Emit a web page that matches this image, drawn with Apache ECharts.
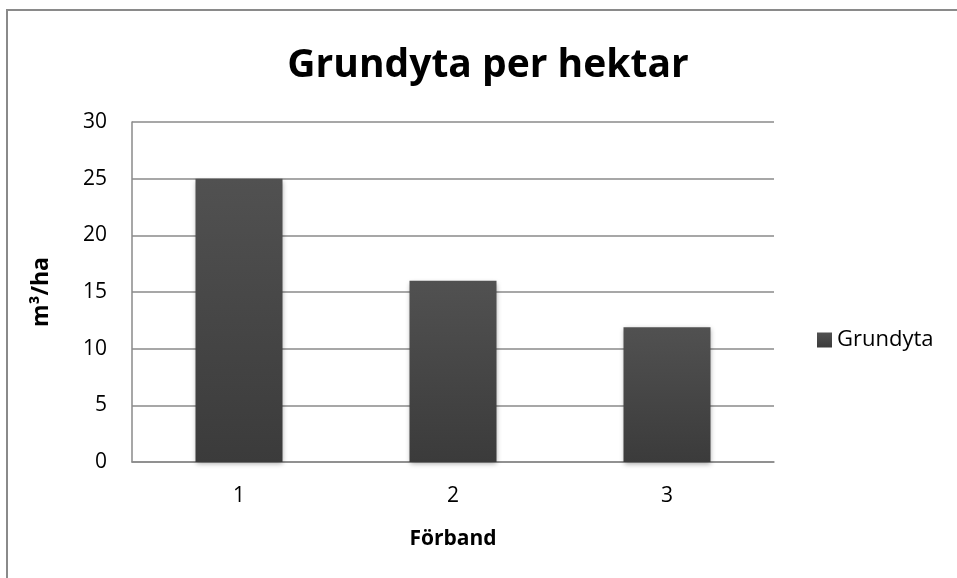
<!DOCTYPE html>
<html>
<head>
<meta charset="utf-8">
<script src="https://cdn.jsdelivr.net/npm/echarts@6/dist/echarts.min.js"></script>
<style>
  html, body { margin: 0; padding: 0; background: #fff; }
  #chart { width: 957px; height: 578px; }
</style>
</head>
<body>
<div id="chart"></div>
<script>
// data
const categories = ['1', '2', '3']
const grundyta = [25, 16, 11.9]
const yTicks = { min: 0, max: 30, interval: 5 }

const font = '"Open Sans", "Noto Sans", sans-serif'

const chart = echarts.init(document.getElementById('chart'))

const option = {
  animation: false,
  graphic: [{
    type: 'rect',
    shape: { x: 7, y: 10, width: 1000, height: 1000 },
    style: { fill: 'none', stroke: '#8a8a8a', lineWidth: 2 },
    silent: true
  }],
  title: {
    text: 'Grundyta per hektar',
    left: 488,
    textAlign: 'center',
    top: 46,
    padding: 0,
    textStyle: { fontFamily: font, fontSize: 39, fontWeight: 'bold', color: '#000' }
  },
  legend: {
    data: ['Grundyta'],
    left: 817,
    top: 329,
    padding: 0,
    icon: 'rect',
    itemWidth: 15,
    itemHeight: 15,
    textStyle: { fontFamily: font, fontSize: 22, color: '#000' }
  },
  grid: { left: 132, right: 183, top: 122, bottom: 116 },
  xAxis: {
    type: 'category',
    data: categories,
    name: 'Förband',
    nameLocation: 'middle',
    nameGap: 67,
    nameTextStyle: { fontFamily: font, fontSize: 21, fontWeight: 'bold', color: '#000' },
    axisLine: { lineStyle: { color: '#8a8a8a', width: 1.5 } },
    axisTick: { show: false },
    axisLabel: { fontFamily: font, fontSize: 21, color: '#000', margin: 24 }
  },
  yAxis: {
    type: 'value',
    min: yTicks.min,
    max: yTicks.max,
    interval: yTicks.interval,
    name: 'm³/ha',
    nameLocation: 'middle',
    nameGap: 79,
    nameRotate: 90,
    nameTextStyle: { fontFamily: font, fontSize: 23, fontWeight: 'bold', color: '#000' },
    axisLine: { show: true, lineStyle: { color: '#8a8a8a', width: 1.5 } },
    axisTick: { show: false },
    splitLine: { lineStyle: { color: '#8a8a8a', width: 1.5 } },
    axisLabel: { fontFamily: font, fontSize: 21, color: '#000', margin: 25 }
  },
  series: [{
    name: 'Grundyta',
    type: 'bar',
    data: grundyta,
    barWidth: 87,
    itemStyle: {
      color: new echarts.graphic.LinearGradient(0, 0, 0, 1, [
        { offset: 0, color: '#515151' },
        { offset: 1, color: '#3b3b3b' }
      ]),
      shadowColor: 'rgba(0,0,0,0.35)',
      shadowBlur: 5,
      shadowOffsetY: 2
    }
  }]
}

chart.setOption(option)
</script>
</body>
</html>
